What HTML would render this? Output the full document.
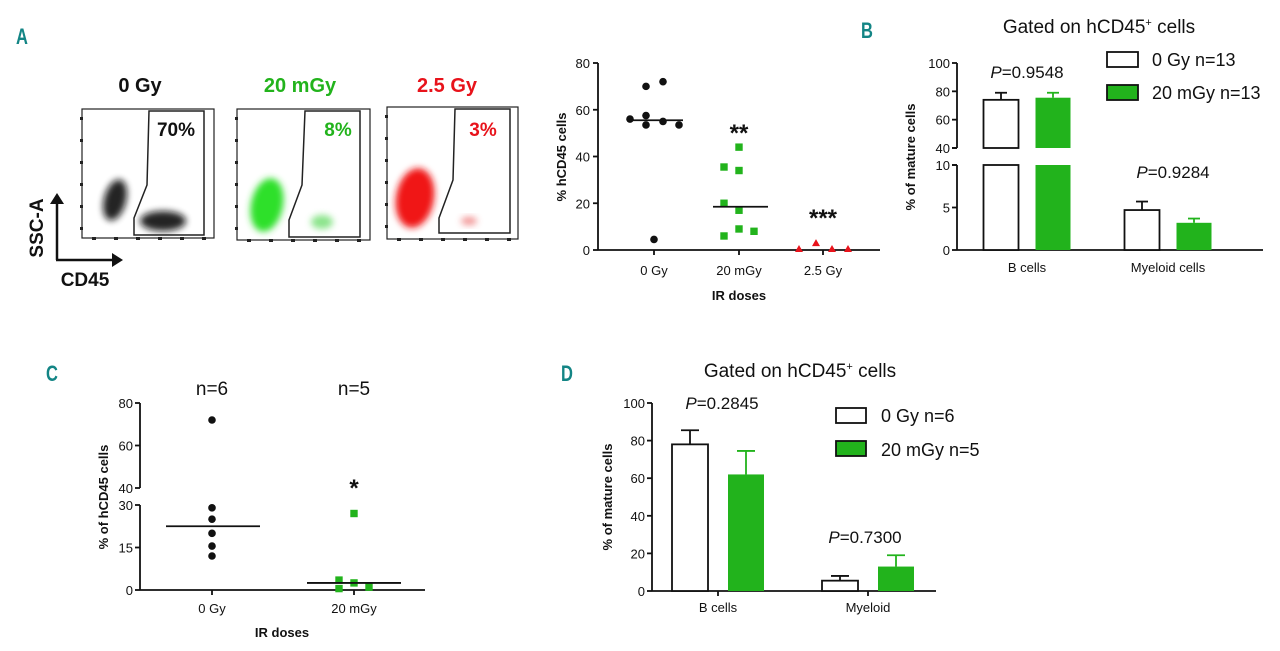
<!DOCTYPE html>
<html><head><meta charset="utf-8"><style>
body{margin:0;background:#fff;width:1280px;height:651px;overflow:hidden}
svg{display:block;font-family:"Liberation Sans",Arial,sans-serif}
.lbl{font-family:"Liberation Sans",sans-serif;font-weight:bold;fill:#138585;font-size:22px}
</style></head><body>
<svg id="fig" width="1280" height="651" viewBox="0 0 1280 651">
<defs>
<filter id="bl" x="-50%" y="-50%" width="200%" height="200%"><feGaussianBlur stdDeviation="3.5"/></filter>
</defs>
<text class="lbl" transform="translate(16,44) scale(0.75,1)">A</text>
<text class="lbl" transform="translate(861,38) scale(0.75,1)">B</text>
<text class="lbl" transform="translate(46,381) scale(0.75,1)">C</text>
<text class="lbl" transform="translate(561,381) scale(0.75,1)">D</text>

<g>
<text x="140" y="92" text-anchor="middle" font-weight="bold" font-size="20" fill="#111">0 Gy</text>
<rect x="82" y="109" width="132" height="129" fill="#fff" stroke="#222" stroke-width="1.2"/>
<ellipse cx="115" cy="200" rx="11" ry="21" fill="#111" opacity="0.9" filter="url(#bl)" transform="rotate(15 115 200)"/>
<ellipse cx="163" cy="221" rx="23" ry="10" fill="#111" opacity="0.9" filter="url(#bl)"/>
<polygon points="149,111 204,111 204,235 134,235 134,218 147,185" fill="none" stroke="#222" stroke-width="1.5"/>
<text x="176" y="136" text-anchor="middle" font-weight="bold" font-size="19" fill="#111">70%</text>
</g>
<g>
<text x="300" y="92" text-anchor="middle" font-weight="bold" font-size="20" fill="#22b31c">20 mGy</text>
<rect x="237" y="109" width="133" height="131" fill="#fff" stroke="#222" stroke-width="1.2"/>
<ellipse cx="267" cy="205" rx="16" ry="27" fill="#2ee02a" filter="url(#bl)" transform="rotate(12 267 205)"/>
<ellipse cx="322" cy="222" rx="11" ry="7" fill="#5ad95a" opacity="0.7" filter="url(#bl)"/>
<polygon points="305,111 360,111 360,237 289,237 289,220 302,185" fill="none" stroke="#222" stroke-width="1.5"/>
<text x="338" y="136" text-anchor="middle" font-weight="bold" font-size="19" fill="#22b31c">8%</text>
</g>
<g>
<text x="447" y="92" text-anchor="middle" font-weight="bold" font-size="20" fill="#e8131b">2.5 Gy</text>
<rect x="387" y="107" width="131" height="132" fill="#fff" stroke="#222" stroke-width="1.2"/>
<ellipse cx="415" cy="198" rx="19" ry="30" fill="#f01818" filter="url(#bl)" transform="rotate(10 415 198)"/>
<ellipse cx="469" cy="221" rx="8" ry="4" fill="#e84a4a" opacity="0.6" filter="url(#bl)"/>
<polygon points="455,109 510,109 510,233 439,233 439,218 453,180" fill="none" stroke="#222" stroke-width="1.5"/>
<text x="483" y="136" text-anchor="middle" font-weight="bold" font-size="19" fill="#e8131b">3%</text>
</g>
<g id="flowticks"></g>
<g stroke="#111" stroke-width="2.5" fill="#111">
<line x1="57" y1="260" x2="57" y2="202"/><polygon points="50,204 64,204 57,193" stroke="none"/>
<line x1="56" y1="260" x2="114" y2="260"/><polygon points="112,253 112,267 123,260" stroke="none"/>
</g>
<text transform="translate(43,228) rotate(-90)" text-anchor="middle" font-weight="bold" font-size="19" fill="#111">SSC-A</text>
<text x="85" y="286" text-anchor="middle" font-weight="bold" font-size="19" fill="#111">CD45</text>

<g id="pa"></g>
<g id="pb"></g>
<g id="pc"></g>
<g id="pd"></g>
</svg>
<script>
const aCats = ["0 Gy","20 mGy","2.5 Gy"];
const a0 = [56,70,72,57.5,53.5,55,53.5,4.5];
const a0dx = [-24,-8,9,-8,-8,9,25,0];
const a20 = [35.5,44,34,20,17,6,9,8];
const a20dx = [-15,0,0,-15,0,-15,0,15];
const a25 = [0,2.5,0,0];
const a25dx = [-24,-7,9,25];
const aMed = [55.5,18.5,0];
const aTicks = [0,20,40,60,80];
const bCats = ["B cells","Myeloid cells"];
const b0 = [74,4.7], b0err=[79,5.7];
const b20 = [75.5,3.2], b20err=[79,3.7];
const bTicksTop=[40,60,80,100], bTicksBot=[0,5,10];
const cCats=["0 Gy","20 mGy"];
const c0=[72,29,25,20,15.5,12], c0dx=[0,0,0,0,0,0];
const c20=[27,3.5,0.5,2.5,1], c20dx=[0,-15,-15,0,15];
const cMed=[22.5,2.5];
const cTicksTop=[40,60,80], cTicksBot=[0,15,30];
const dCats=["B cells","Myeloid"];
const d0=[78,5.5], d0err=[85.5,8];
const d20=[62,13], d20err=[74.5,19];
const dTicks=[0,20,40,60,80,100];

const NS="http://www.w3.org/2000/svg";
const GREEN="#22b31c", RED="#e8131b";
function mk(p,tag,at,txt){const e=document.createElementNS(NS,tag);for(const k in at)e.setAttribute(k,at[k]);if(txt!==undefined)e.textContent=txt;p.appendChild(e);return e;}
function ln(p,x1,y1,x2,y2,c,w){return mk(p,"line",{x1,y1,x2,y2,stroke:c||"#111","stroke-width":w||1.8});}
function tx(p,x,y,s,sz,anc,extra){const at={x,y,"font-size":sz||13,"text-anchor":anc||"middle",fill:"#111"};Object.assign(at,extra||{});return mk(p,"text",at,s);}

(function(){
const g=document.getElementById("flowticks");
[[82,109,238],[237,109,240],[387,107,239]].forEach(f=>{
 for(let k=0;k<6;k++){const yy=f[1]+8+k*22;mk(g,"rect",{x:f[0]-2,y:yy,width:3,height:3,fill:"#222"});}
 for(let k=0;k<6;k++){const xx=f[0]+10+k*22;mk(g,"rect",{x:xx,y:f[2]-1,width:4,height:3,fill:"#222"});}
});
})();

(function(){
const g=document.getElementById("pa");
const X0=598,Y0=250,Y80=63;
const y=v=>Y0-(v/80)*(Y0-Y80);
const cx=[654,739,823];
let e;
e=ln(g,X0,Y80,X0,Y0);  
e=ln(g,X0,Y0,880,Y0);  
aTicks.forEach(t=>{ln(g,X0-5,y(t),X0,y(t));e=tx(g,X0-8,y(t)+5,String(t),13,"end");});
aCats.forEach((c,i)=>{ln(g,cx[i],Y0,cx[i],Y0+5);e=tx(g,cx[i],275,c,13);});
e=tx(g,739,300,"IR doses",13,"middle",{"font-weight":"bold"});
e=tx(g,0,0,"% hCD45 cells",13,"middle",{"font-weight":"bold",transform:"translate(566,157) rotate(-90)"});
a0.forEach((v,i)=>{e=mk(g,"circle",{cx:cx[0]+a0dx[i],cy:y(v),r:3.8,fill:"#111"});});
a20.forEach((v,i)=>{e=mk(g,"rect",{x:cx[1]+a20dx[i]-3.7,y:y(v)-3.7,width:7.4,height:7.4,fill:GREEN});});
a25.forEach((v,i)=>{const px=cx[2]+a25dx[i],py=y(v);e=mk(g,"polygon",{points:`${px-4},${py+2} ${px+4},${py+2} ${px},${py-5}`,fill:RED});});
aMed.forEach((m,i)=>{if(i<2){e=ln(g,cx[i]-26,y(m),cx[i]+29,y(m),"#111",1.8);}});
e=tx(g,739,141,"**",24,"middle",{"font-weight":"bold"});
e=tx(g,823,226,"***",24,"middle",{"font-weight":"bold"});
})();

(function(){
const g=document.getElementById("pb");
const X0=957;
const y=v=>v>=40?148-(v-40)*(148-63)/60:250-v*(250-165)/10;
const catC=[1027,1168], bw=35, off=[-26,26];
let e;
e=ln(g,X0,63,X0,148);
e=ln(g,X0,165,X0,250);
e=ln(g,X0,250,1263,250);
bTicksTop.concat(bTicksBot).forEach(t=>{ln(g,X0-5,y(t),X0,y(t));e=tx(g,X0-7,y(t)+5,String(t),13,"end");});
bCats.forEach((c,i)=>{e=tx(g,catC[i],272,c,13);});
e=tx(g,0,0,"% of mature cells",13,"middle",{"font-weight":"bold",transform:"translate(915,157) rotate(-90)"});
e=tx(g,1099,33,"Gated on hCD45",19);
mk(e,"tspan",{"font-size":11,dy:-7},"+");mk(e,"tspan",{dy:7}," cells");
function bar(v,err,x,fill,stroke,nm){
 const segs=v>=40?[[y(v),148],[165,250]]:[[y(v),250]];
 segs.forEach(s=>{e=mk(g,"rect",{x:x,y:s[0],width:bw,height:s[1]-s[0],fill:fill,stroke:stroke,"stroke-width":stroke=="none"?0:1.8});});
 if(v>=40&&stroke!="none"){mk(g,"rect",{x:x-2,y:149,width:bw+4,height:15,fill:"#fff"});}
 const c=stroke=="none"?fill:"#111";
 e=ln(g,x+bw/2,y(v),x+bw/2,y(err),c,1.8);
 ln(g,x+bw/2-6,y(err),x+bw/2+6,y(err),c,1.8);
}
b0.forEach((v,i)=>bar(v,b0err[i],catC[i]+off[0]-bw/2,"#fff","#111","bar-0gy"));
b20.forEach((v,i)=>bar(v,b20err[i],catC[i]+off[1]-bw/2,GREEN,"none","bar-20mgy"));
mk(g,"rect",{x:X0-6,y:149,width:12,height:15,fill:"#fff"});
ln(g,X0-5,148,X0,148);ln(g,X0-5,165,X0,165);
e=tx(g,1027,78,"",17);
mk(e,"tspan",{"font-style":"italic"},"P");mk(e,"tspan",{},"=0.9548");
e=tx(g,1173,178,"",17);
mk(e,"tspan",{"font-style":"italic"},"P");mk(e,"tspan",{},"=0.9284");
e=mk(g,"rect",{x:1107,y:52,width:31,height:15,fill:"#fff",stroke:"#111","stroke-width":1.8});
e=tx(g,1152,66,"0 Gy n=13",18,"start");
e=mk(g,"rect",{x:1107,y:85,width:31,height:15,fill:GREEN,stroke:"#111","stroke-width":1.8});
e=tx(g,1152,99,"20 mGy n=13",18,"start");
})();

(function(){
const g=document.getElementById("pc");
const X0=140;
const y=v=>v>=40?488-(v-40)*(488-403)/40:590-v*(590-505)/30;
const cx=[212,354];
let e;
e=ln(g,X0,403,X0,488);
e=ln(g,X0,505,X0,590);
e=ln(g,X0,590,425,590);
cTicksTop.concat(cTicksBot).forEach(t=>{ln(g,X0-5,y(t),X0,y(t));e=tx(g,X0-7,y(t)+5,String(t),13,"end");});
cCats.forEach((c,i)=>{ln(g,cx[i],590,cx[i],595);e=tx(g,cx[i],613,c,13);});
e=tx(g,282,637,"IR doses",13,"middle",{"font-weight":"bold"});
e=tx(g,0,0,"% of hCD45 cells",13,"middle",{"font-weight":"bold",transform:"translate(108,497) rotate(-90)"});
e=tx(g,212,395,"n=6",19);
e=tx(g,354,395,"n=5",19);
c0.forEach((v,i)=>{e=mk(g,"circle",{cx:cx[0]+c0dx[i],cy:y(v),r:3.8,fill:"#111"});});
c20.forEach((v,i)=>{e=mk(g,"rect",{x:cx[1]+c20dx[i]-3.7,y:y(v)-3.7,width:7.4,height:7.4,fill:GREEN});});
e=ln(g,166,y(cMed[0]),260,y(cMed[0]),"#111",1.8);
e=ln(g,307,y(cMed[1]),401,y(cMed[1]),"#111",1.8);
e=tx(g,354,496,"*",24,"middle",{"font-weight":"bold"});
})();

(function(){
const g=document.getElementById("pd");
const X0=652,Y0=591,Y100=403;
const y=v=>Y0-v/100*(Y0-Y100);
const catC=[718,868],bw=36,off=[-28,28];
let e;
e=ln(g,X0,Y100,X0,Y0);
e=ln(g,X0,Y0,936,Y0);
dTicks.forEach(t=>{ln(g,X0-5,y(t),X0,y(t));e=tx(g,X0-7,y(t)+5,String(t),13,"end");});
dCats.forEach((c,i)=>{ln(g,catC[i],Y0,catC[i],Y0+5);e=tx(g,catC[i],612,c,13);});
e=tx(g,0,0,"% of mature cells",13,"middle",{"font-weight":"bold",transform:"translate(612,497) rotate(-90)"});
e=tx(g,800,377,"Gated on hCD45",19);
mk(e,"tspan",{"font-size":11,dy:-7},"+");mk(e,"tspan",{dy:7}," cells");
function bar(v,err,x,fill,stroke,nm){
 e=mk(g,"rect",{x:x,y:y(v),width:bw,height:Y0-y(v),fill:fill,stroke:stroke,"stroke-width":stroke=="none"?0:1.8});
 const c=stroke=="none"?fill:"#111";
 e=ln(g,x+bw/2,y(v),x+bw/2,y(err),c,1.8);
 ln(g,x+bw/2-9,y(err),x+bw/2+9,y(err),c,1.8);
}
d0.forEach((v,i)=>bar(v,d0err[i],catC[i]+off[0]-bw/2,"#fff","#111","bar-0gy"));
d20.forEach((v,i)=>bar(v,d20err[i],catC[i]+off[1]-bw/2,GREEN,"none","bar-20mgy"));
e=tx(g,722,409,"",17);
mk(e,"tspan",{"font-style":"italic"},"P");mk(e,"tspan",{},"=0.2845");
e=tx(g,865,543,"",17);
mk(e,"tspan",{"font-style":"italic"},"P");mk(e,"tspan",{},"=0.7300");
e=mk(g,"rect",{x:836,y:408,width:30,height:15,fill:"#fff",stroke:"#111","stroke-width":1.8});
e=tx(g,881,422,"0 Gy n=6",18,"start");
e=mk(g,"rect",{x:836,y:441,width:30,height:15,fill:GREEN,stroke:"#111","stroke-width":1.8});
e=tx(g,881,456,"20 mGy n=5",18,"start");
})();
</script>
</body></html>
